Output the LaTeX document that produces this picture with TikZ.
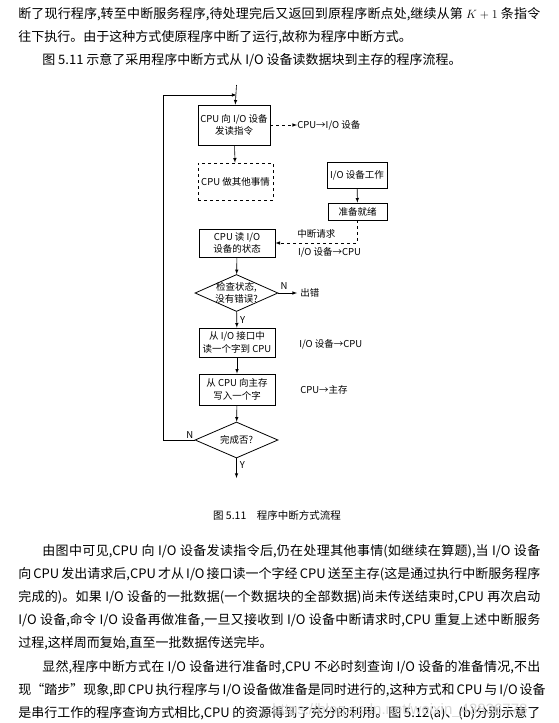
\documentclass[tikz,border=0pt]{standalone}
\usepackage{fontspec}
\setmainfont{Noto Sans CJK SC}
\newfontfamily\urlfont{Liberation Sans}
\newXeTeXintercharclass\hanclass
\count255="3001
\XeTeXcharclass\count255=\hanclass
\count255="3002
\XeTeXcharclass\count255=\hanclass
\count255="4E00
\loop
  \XeTeXcharclass\count255=\hanclass
  \advance\count255 by 1
  \ifnum\count255<"A000
\repeat
\XeTeXinterchartokenstate=1
\XeTeXinterchartoks\hanclass\hanclass={\hskip 0pt plus 1pt\relax}
\usetikzlibrary{arrows,shapes.geometric}
\tikzset{
  blk/.style={draw,line width=0.8pt,inner sep=0pt,align=center,font=\fontsize{9.5}{12.5}\selectfont},
  dia/.style={draw,diamond,aspect=2.2,inner sep=0pt,minimum width=83pt,minimum height=37pt,line width=0.8pt},
  lbl/.style={inner sep=0pt,font=\fontsize{9.5}{12}\selectfont},
  txt/.style={anchor=west,inner sep=0pt,font=\fontsize{13}{15}\selectfont},
}
\newcommand{\fullline}[1]{\makebox[522pt][s]{#1}}
\newcommand{\indline}[1]{\makebox[498pt][s]{#1}}

\begin{document}
\begin{tikzpicture}[x=1pt,y=-1pt,line width=0.6pt]
              \fill[white](0,0)rectangle(558,723);
              \useasboundingbox(0,0)rectangle(558,723);
              % text above the figure
              \node[txt](t1)at(18,14){\fullline{断了现行程序,转至中断服务程序,待处理完后又返回到原程序断点处,继续从第 $K+1$ 条指令}};
              \node[txt](t2)at(18,37){往下执行。由于这种方式使原程序中断了运行,故称为程序中断方式。};
              \node[txt](t3)at(42,60){图 5.11 示意了采用程序中断方式从 I/O 设备读数据块到主存的程序流程。};
              % flow chart
              \coordinate(top)at(236.5,85);
              \coordinate(ret)at(163,95);
              \node[blk,minimum width=72pt,minimum height=40pt](b1)at(234,125){CPU 向 I/O 设备\\发读指令};
              \node[blk,dashed,minimum width=75pt,minimum height=37pt](b2)at(235.5,181.5){CPU 做其他事情};
              \node[blk,minimum width=60pt,minimum height=26pt](io)at(357,175){I/O 设备工作};
              \node[blk,minimum width=59pt,minimum height=17pt](rdy)at(357.5,211.5){准备就绪};
              \node[blk,minimum width=76pt,minimum height=28pt](b3)at(237,243){CPU 读 I/O\\设备的状态};
              \node[dia](chk)at(236.5,293){};
              \node[lbl,align=center](chkt)at(chk){检查状态,\\没有错误?};
              \node[blk,minimum width=76pt,minimum height=29pt](b4)at(237,342.5){从 I/O 接口中\\读一个字到 CPU};
              \node[blk,minimum width=76pt,minimum height=31pt](b5)at(237,389.5){从 CPU 向主存\\写入一个字};
              \node[dia,minimum height=36pt](d2)at(236.5,440){};
              \node[lbl](d2t)at(d2){完成否?};
              \coordinate(end)at(236.5,478);
              \node[lbl,anchor=west](cpuio)at(297,125){CPU→I/O 设备};
              \node[lbl,anchor=west,inner sep=3pt](err)at(297,293){出错};
              \node[lbl,anchor=west](io2)at(299,344){I/O 设备→CPU};
              \node[lbl,anchor=west](cpumem)at(300,390){CPU→主存};
              \draw[-latex](top)--(b1);
              \draw[-latex](b1)--(b2);
              \draw[dashed,-latex](b1)--(cpuio);
              \draw[-latex](io)--(rdy);
              \draw[dashed,-latex](rdy)|-node[lbl,above=4pt,pos=0.75]{中断请求}node[lbl,below=4pt,pos=0.67]{I/O 设备→CPU}(b3);
              \draw[-latex](b3)--(chk);
              \draw[-latex](chk)--node[lbl,above=3pt,pos=0.3]{N}(err);
              \draw[-latex](chk)--node[lbl,right=3pt,pos=0.5]{Y}(b4);
              \draw[-latex](b4)--(b5);
              \draw[-latex](b5)--(d2);
              \draw[-latex](d2)--node[lbl,right=3pt,pos=0.35]{Y}(end);
              \draw[-latex](d2.west)node[lbl,above left=1pt]{N}-|(ret)--(ret-|top);
              \node[font=\fontsize{10.5}{12}\selectfont](cap)at(277,515){图 5.11\quad 程序中断方式流程};
              % text below the figure
              \node[txt](u1)at(42,551){\indline{由图中可见,CPU 向 I/O 设备发读指令后,仍在处理其他事情(如继续在算题),当 I/O 设备}};
              \node[txt](u2)at(18,574){\fullline{向 CPU 发出请求后,CPU 才从 I/O 接口读一个字经 CPU 送至主存(这是通过执行中断服务程序}};
              \node[txt](u3)at(18,597){\fullline{完成的)。如果 I/O 设备的一批数据(一个数据块的全部数据)尚未传送结束时,CPU 再次启动}};
              \node[txt](u4)at(18,620){\fullline{I/O 设备,命令 I/O 设备再做准备,一旦又接收到 I/O 设备中断请求时,CPU 重复上述中断服务}};
              \node[txt](u5)at(18,643){过程,这样周而复始,直至一批数据传送完毕。};
              \node[txt](u6)at(42,667){\indline{显然,程序中断方式在 I/O 设备进行准备时,CPU 不必时刻查询 I/O 设备的准备情况,不出}};
              \node[txt](u7)at(18,690){\fullline{现“踏步”现象,即 CPU 执行程序与 I/O 设备做准备是同时进行的,这种方式和 CPU 与 I/O 设备}};
              \node[txt](u8)at(18,713){\fullline{是串行工作的程序查询方式相比,CPU 的资源得到了充分的利用。图 5.12(a)、(b)分别示意了}};
              \node[anchor=west,inner sep=0pt,text=black!15,font=\urlfont\fontsize{15}{16}\selectfont](wm)at(272,711){https://blog.csdn.net/weixin\_43836778};
            \end{tikzpicture}
\end{document}
